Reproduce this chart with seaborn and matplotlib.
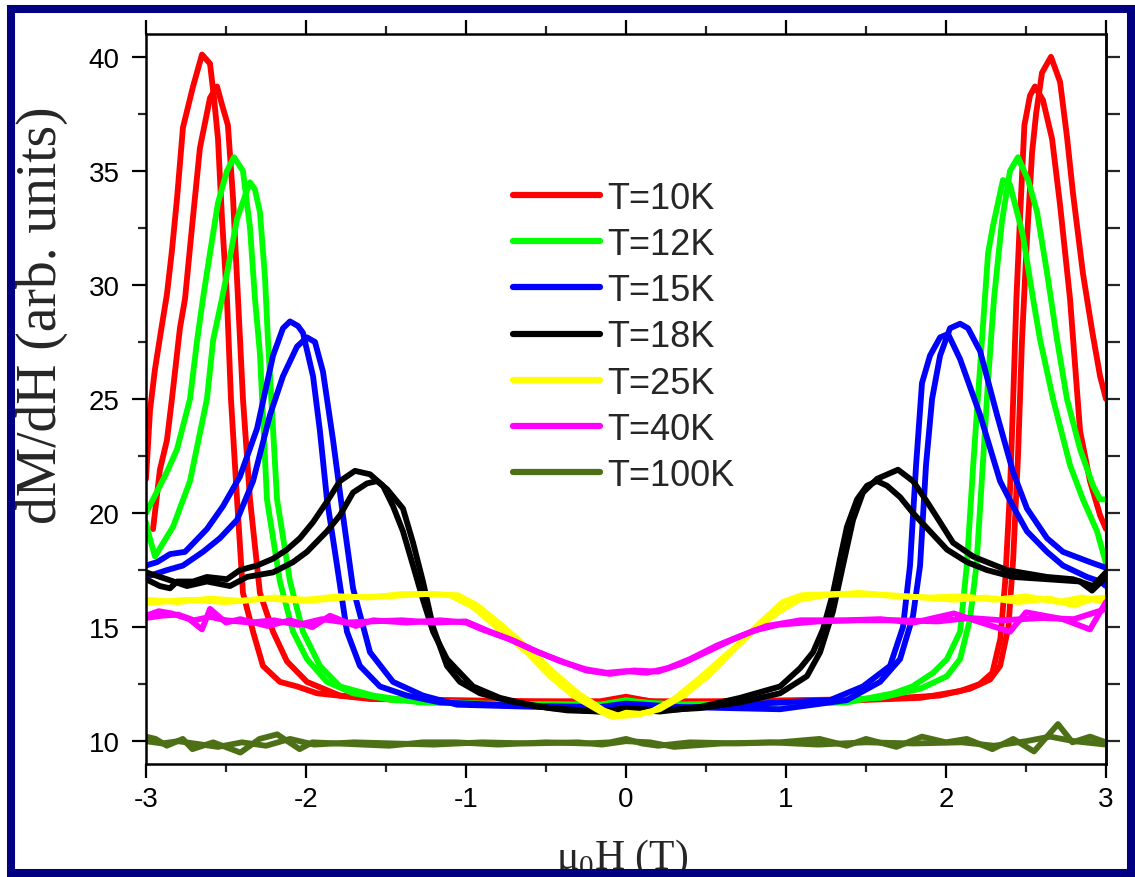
import matplotlib
matplotlib.use("Agg")
import matplotlib.pyplot as plt
import seaborn as sns
import pandas as pd
from matplotlib.patches import Rectangle
from matplotlib.lines import Line2D
from matplotlib.ticker import MultipleLocator

# ---------------- data ----------------
temps = ["T=10K", "T=12K", "T=15K", "T=18K", "T=25K", "T=40K", "T=100K"]
colors = ["#FF0000", "#00FF00", "#0000FF", "#000000", "#FFFF00", "#FF00FF", "#4D7017"]

h_10K_a = [-3.0, -2.975, -2.944, -2.906, -2.869, -2.838, -2.806, -2.769, -2.706, -2.65, -2.6, -2.575, -2.55, -2.525, -2.494, -2.469, -2.431, -2.394, -2.331, -2.269, -2.163, -2.056, -1.931, -1.6, -1.1, -0.6, -0.16, 0.0, 0.15, 0.59, 1.09, 1.59, 1.96, 2.15, 2.275, 2.338, 2.39, 2.42, 2.45, 2.475, 2.506, 2.538, 2.563, 2.6, 2.656, 2.713, 2.756, 2.794, 2.856, 2.913, 2.963, 3.0]
m_10K_a = [21.5, 24.5, 26.3, 28.0, 29.6, 31.5, 33.8, 36.9, 38.7, 40.1, 39.7, 38.2, 36.4, 32.9, 29.4, 25.0, 20.6, 16.5, 14.8, 13.3, 12.6, 12.4, 12.1, 11.85, 11.8, 11.75, 11.75, 11.95, 11.75, 11.75, 11.8, 11.85, 12.0, 12.3, 12.7, 13.3, 15.0, 18.0, 22.5, 27.6, 32.0, 35.8, 37.5, 39.3, 40.0, 38.9, 36.5, 34.0, 30.5, 28.0, 26.0, 25.0]
h_10K_b = [-2.956, -2.913, -2.869, -2.838, -2.788, -2.756, -2.713, -2.663, -2.6, -2.556, -2.525, -2.488, -2.456, -2.425, -2.394, -2.35, -2.288, -2.206, -2.119, -1.994, -1.788, -1.41, -0.79, -0.16, 0.0, 0.21, 0.84, 1.46, 1.84, 2.09, 2.21, 2.29, 2.34, 2.37, 2.40, 2.42, 2.44, 2.463, 2.49, 2.525, 2.556, 2.606, 2.663, 2.713, 2.775, 2.838, 2.9, 2.963, 3.0]
m_10K_b = [19.3, 21.9, 23.2, 25.0, 28.1, 29.4, 32.5, 36.0, 38.2, 38.7, 37.9, 37.0, 33.8, 29.4, 25.0, 20.6, 16.5, 14.8, 13.5, 12.6, 12.0, 11.8, 11.75, 11.7, 11.9, 11.7, 11.75, 11.8, 11.9, 12.2, 12.5, 13.0, 14.5, 17.0, 21.0, 25.0, 29.4, 33.0, 37.0, 38.3, 38.7, 38.1, 36.4, 33.5, 29.4, 23.6, 21.4, 19.9, 19.3]

h_12K_a = [-3.0, -2.956, -2.869, -2.806, -2.725, -2.68, -2.644, -2.6, -2.55, -2.494, -2.45, -2.394, -2.35, -2.319, -2.288, -2.244, -2.163, -2.081, -1.994, -1.869, -1.706, -1.456, -0.913, -0.16, 0.0, 0.21, 0.963, 1.588, 1.84, 2.006, 2.088, 2.15, 2.19, 2.23, 2.26, 2.281, 2.3, 2.35, 2.4, 2.45, 2.513, 2.569, 2.63, 2.694, 2.756, 2.838, 2.919, 2.963, 3.0]
m_12K_a = [20.0, 20.6, 21.8, 22.8, 25.0, 27.6, 29.4, 31.4, 33.6, 35.0, 35.6, 35.0, 32.5, 29.4, 27.0, 20.6, 17.0, 14.8, 13.6, 12.6, 12.1, 11.8, 11.65, 11.6, 11.8, 11.6, 11.65, 11.9, 12.3, 12.85, 13.6, 15.35, 17.7, 22.1, 25.5, 27.6, 29.4, 32.8, 35.0, 35.6, 34.6, 33.2, 30.6, 27.6, 25.0, 22.8, 21.2, 20.6, 20.6]
h_12K_b = [-3.0, -2.988, -2.944, -2.831, -2.725, -2.619, -2.58, -2.525, -2.494, -2.431, -2.381, -2.35, -2.32, -2.288, -2.256, -2.238, -2.181, -2.1, -2.019, -1.913, -1.788, -1.58, -1.288, -0.66, -0.16, 0.0, 0.34, 1.09, 1.38, 1.67, 1.79, 1.92, 2.006, 2.088, 2.13, 2.17, 2.225, 2.263, 2.294, 2.356, 2.4, 2.48, 2.544, 2.588, 2.669, 2.775, 2.856, 2.944, 3.0]
m_12K_b = [19.6, 19.2, 18.1, 19.4, 21.4, 25.0, 27.6, 29.4, 30.5, 32.9, 33.9, 34.5, 34.2, 33.2, 30.3, 27.6, 20.6, 17.0, 14.8, 13.3, 12.4, 12.0, 11.7, 11.6, 11.6, 11.75, 11.6, 11.65, 11.7, 12.1, 12.4, 13.0, 13.6, 14.8, 17.7, 22.1, 27.6, 31.4, 32.6, 34.6, 34.4, 32.2, 29.4, 27.6, 25.0, 22.1, 20.6, 19.2, 17.8]

h_15K_a = [-3.0, -2.931, -2.85, -2.756, -2.619, -2.519, -2.413, -2.306, -2.206, -2.144, -2.1, -2.05, -2.019, -1.956, -1.913, -1.869, -1.806, -1.744, -1.663, -1.538, -1.369, -1.163, -0.66, -0.16, 0.0, 0.34, 0.963, 1.38, 1.588, 1.713, 1.794, 1.838, 1.875, 1.913, 1.963, 2.025, 2.088, 2.138, 2.213, 2.319, 2.419, 2.506, 2.631, 2.731, 2.9, 3.0]
m_15K_a = [17.7, 17.85, 18.2, 18.3, 19.3, 20.3, 21.6, 23.7, 26.9, 28.1, 28.4, 28.2, 27.9, 26.0, 23.6, 20.6, 17.7, 14.8, 13.3, 12.4, 12.0, 11.7, 11.55, 11.5, 11.65, 11.5, 11.4, 11.8, 12.6, 13.6, 15.5, 17.7, 22.1, 25.0, 26.9, 28.1, 28.3, 28.1, 27.1, 24.3, 21.8, 20.2, 18.9, 18.3, 17.85, 17.6]
h_15K_b = [-3.0, -2.869, -2.769, -2.644, -2.538, -2.431, -2.331, -2.225, -2.144, -2.056, -1.994, -1.944, -1.894, -1.831, -1.769, -1.706, -1.6, -1.456, -1.269, -1.056, -0.538, -0.16, 0.0, 0.34, 0.963, 1.275, 1.481, 1.65, 1.731, 1.775, 1.813, 1.85, 1.9, 1.963, 2.013, 2.088, 2.213, 2.338, 2.419, 2.506, 2.631, 2.731, 2.881, 2.963, 3.0]
m_15K_b = [17.2, 17.5, 17.7, 18.3, 18.9, 19.7, 21.4, 24.3, 26.0, 27.3, 27.7, 27.5, 26.2, 23.2, 19.9, 16.7, 13.9, 12.6, 12.0, 11.6, 11.5, 11.45, 11.6, 11.45, 11.7, 11.8, 12.4, 13.3, 15.0, 17.7, 22.1, 25.7, 26.9, 27.7, 27.85, 26.75, 24.3, 21.4, 20.3, 19.2, 18.3, 17.7, 17.2, 17.0, 16.8]

h_18K_a = [-3.0, -2.913, -2.85, -2.806, -2.706, -2.619, -2.494, -2.413, -2.306, -2.206, -2.119, -2.038, -1.956, -1.869, -1.788, -1.694, -1.6, -1.519, -1.456, -1.394, -1.331, -1.269, -1.206, -1.119, -1.038, -0.956, -0.788, -0.58, -0.369, -0.163, 0.0, 0.213, 0.463, 0.713, 0.963, 1.131, 1.213, 1.294, 1.356, 1.419, 1.481, 1.569, 1.7, 1.794, 1.881, 1.963, 2.044, 2.169, 2.256, 2.381, 2.463, 2.631, 2.794, 2.919, 3.0]
m_18K_a = [17.1, 16.8, 16.7, 17.0, 17.0, 17.2, 17.1, 17.5, 17.7, 18.0, 18.4, 18.9, 19.6, 20.5, 21.4, 21.85, 21.7, 21.2, 20.3, 19.2, 17.7, 16.2, 14.8, 13.6, 13.0, 12.4, 11.9, 11.55, 11.35, 11.3, 11.45, 11.35, 11.45, 11.7, 12.1, 12.85, 13.9, 15.7, 17.7, 19.7, 20.9, 21.5, 21.9, 21.4, 20.5, 19.6, 18.7, 18.1, 17.85, 17.5, 17.4, 17.2, 17.1, 16.8, 17.4]
h_18K_b = [-3.0, -2.869, -2.744, -2.619, -2.475, -2.369, -2.206, -2.081, -1.994, -1.869, -1.788, -1.706, -1.619, -1.556, -1.494, -1.394, -1.331, -1.269, -1.206, -1.119, -1.038, -0.913, -0.725, -0.475, -0.163, 0.0, 0.213, 0.463, 0.713, 0.963, 1.088, 1.169, 1.231, 1.294, 1.338, 1.381, 1.444, 1.506, 1.569, 1.631, 1.713, 1.794, 1.9, 2.006, 2.131, 2.256, 2.419, 2.631, 2.838, 2.913, 3.0]
m_18K_b = [17.4, 17.1, 16.8, 17.0, 16.8, 17.2, 17.4, 17.85, 18.3, 19.2, 19.9, 20.9, 21.3, 21.4, 21.05, 20.2, 18.7, 17.0, 15.0, 13.3, 12.6, 12.1, 11.75, 11.45, 11.3, 11.4, 11.3, 11.5, 11.9, 12.4, 13.2, 13.9, 14.9, 16.5, 18.0, 19.4, 20.6, 21.2, 21.4, 21.2, 20.7, 20.0, 19.2, 18.4, 17.85, 17.5, 17.2, 17.1, 17.0, 16.6, 17.2]

h_25K_a = [-3.0, -2.8, -2.6, -2.4, -2.2, -2.0, -1.8, -1.6, -1.4, -1.2, -1.1, -0.96, -0.8, -0.62, -0.475, -0.33, -0.16, -0.08, 0.0, 0.09, 0.21, 0.36, 0.51, 0.67, 0.84, 0.98, 1.1, 1.3, 1.5, 1.7, 1.9, 2.1, 2.3, 2.5, 2.7, 2.85, 3.0]
m_25K_a = [16.2, 16.1, 16.25, 16.15, 16.3, 16.2, 16.35, 16.3, 16.45, 16.45, 16.4, 15.9, 14.95, 13.9, 12.85, 12.0, 11.3, 11.05, 11.25, 11.2, 11.4, 12.0, 12.85, 14.0, 15.2, 16.1, 16.4, 16.45, 16.45, 16.35, 16.3, 16.35, 16.2, 16.35, 16.1, 16.3, 16.1]
h_25K_b = [-3.0, -2.75, -2.5, -2.25, -2.0, -1.75, -1.5, -1.25, -1.05, -0.93, -0.78, -0.6, -0.45, -0.3, -0.14, -0.04, 0.06, 0.16, 0.3, 0.45, 0.62, 0.8, 0.95, 1.08, 1.25, 1.45, 1.65, 1.85, 2.05, 2.25, 2.45, 2.65, 2.8, 2.92, 3.0]
m_25K_b = [16.05, 16.2, 16.1, 16.25, 16.15, 16.3, 16.35, 16.45, 16.4, 15.95, 15.1, 14.0, 13.0, 12.1, 11.35, 11.1, 11.15, 11.3, 11.85, 12.7, 13.75, 14.85, 15.65, 16.2, 16.4, 16.5, 16.4, 16.3, 16.2, 16.3, 16.1, 16.25, 15.95, 16.25, 16.3]

h_40K_a = [-3.0, -2.92, -2.84, -2.73, -2.65, -2.6, -2.5, -2.41, -2.24, -2.1, -1.96, -1.85, -1.69, -1.58, -1.37, -1.16, -1.0, -0.9, -0.74, -0.58, -0.41, -0.25, -0.12, 0.0, 0.13, 0.26, 0.4, 0.57, 0.71, 0.88, 1.09, 1.38, 1.59, 1.8, 2.05, 2.22, 2.4, 2.5, 2.73, 2.9, 3.0]
m_40K_a = [15.5, 15.7, 15.6, 15.35, 14.9, 15.8, 15.2, 15.35, 15.05, 15.3, 15.0, 15.5, 15.05, 15.3, 15.2, 15.3, 15.2, 14.9, 14.5, 14.0, 13.5, 13.15, 13.0, 13.07, 13.0, 13.2, 13.6, 14.2, 14.6, 15.05, 15.3, 15.3, 15.35, 15.2, 15.6, 15.2, 14.8, 15.65, 15.35, 14.9, 16.1]
h_40K_b = [-3.0, -2.9, -2.8, -2.7, -2.6, -2.5, -2.35, -2.2, -2.05, -1.9, -1.75, -1.6, -1.4, -1.2, -1.0, -0.85, -0.7, -0.55, -0.4, -0.25, -0.1, 0.05, 0.2, 0.35, 0.5, 0.65, 0.8, 0.95, 1.2, 1.45, 1.7, 1.95, 2.15, 2.35, 2.6, 2.8, 3.0]
m_40K_b = [15.4, 15.5, 15.55, 15.3, 15.45, 15.3, 15.2, 15.3, 15.1, 15.35, 15.2, 15.25, 15.3, 15.2, 15.25, 14.8, 14.4, 13.9, 13.5, 13.1, 12.95, 13.1, 13.05, 13.4, 13.9, 14.4, 14.85, 15.1, 15.25, 15.3, 15.3, 15.25, 15.4, 15.3, 15.4, 15.35, 15.8]

h_100K_a = [-3.0, -2.94, -2.87, -2.77, -2.71, -2.58, -2.41, -2.29, -2.18, -2.04, -1.96, -1.71, -1.48, -1.27, -1.06, -0.8, -0.5, -0.25, -0.1, 0.0, 0.1, 0.2, 0.4, 0.7, 0.96, 1.21, 1.38, 1.5, 1.69, 1.85, 2.0, 2.13, 2.29, 2.42, 2.55, 2.7, 2.79, 2.9, 3.0]
m_100K_a = [10.2, 10.1, 9.8, 10.1, 9.65, 9.95, 9.5, 10.1, 10.3, 9.65, 9.95, 9.87, 9.8, 9.95, 9.95, 9.85, 9.95, 9.9, 9.95, 10.1, 9.9, 9.8, 9.95, 9.9, 9.95, 10.1, 9.8, 10.1, 9.75, 10.2, 9.95, 10.1, 9.65, 10.1, 9.55, 10.75, 9.95, 10.2, 9.95]
h_100K_b = [-3.0, -2.9, -2.8, -2.7, -2.55, -2.4, -2.25, -2.1, -1.95, -1.7, -1.45, -1.2, -0.9, -0.6, -0.3, -0.15, 0.0, 0.15, 0.3, 0.6, 0.9, 1.2, 1.5, 1.8, 2.1, 2.3, 2.5, 2.65, 2.8, 3.0]
m_100K_b = [10.0, 9.9, 10.0, 9.9, 9.75, 9.95, 9.8, 10.1, 9.85, 9.95, 9.9, 9.85, 9.95, 9.9, 9.95, 9.85, 10.0, 9.95, 9.75, 9.9, 9.95, 9.85, 9.95, 9.9, 9.95, 9.8, 10.0, 10.2, 10.0, 9.85]

x_ticks = [-3, -2, -1, 0, 1, 2, 3]
y_ticks = [10, 15, 20, 25, 30, 35, 40]

branches = [
    ("T=10K", "a", h_10K_a, m_10K_a), ("T=10K", "b", h_10K_b, m_10K_b),
    ("T=12K", "a", h_12K_a, m_12K_a), ("T=12K", "b", h_12K_b, m_12K_b),
    ("T=15K", "a", h_15K_a, m_15K_a), ("T=15K", "b", h_15K_b, m_15K_b),
    ("T=18K", "a", h_18K_a, m_18K_a), ("T=18K", "b", h_18K_b, m_18K_b),
    ("T=25K", "a", h_25K_a, m_25K_a), ("T=25K", "b", h_25K_b, m_25K_b),
    ("T=40K", "a", h_40K_a, m_40K_a), ("T=40K", "b", h_40K_b, m_40K_b),
    ("T=100K", "a", h_100K_a, m_100K_a), ("T=100K", "b", h_100K_b, m_100K_b),
]
frames = []
for t, b, h, m in branches:
    frames.append(pd.DataFrame({"H": h, "dMdH": m, "T": t, "branch": t + b}))
df = pd.concat(frames, ignore_index=True)

# ---------------- style ----------------
sns.set_style("white")
plt.rcParams["font.family"] = ["Liberation Sans", "DejaVu Sans"]
plt.rcParams["axes.unicode_minus"] = False
plt.rcParams["mathtext.fontset"] = "custom"
plt.rcParams["mathtext.rm"] = "Liberation Serif"

fig = plt.figure(figsize=(11.35, 8.78), dpi=100)
ax = fig.add_axes([146 / 1135, 113 / 878, 960 / 1135, 730 / 878])

sns.lineplot(data=df, x="H", y="dMdH", hue="T", units="branch", estimator=None,
             sort=False, hue_order=temps, palette=dict(zip(temps, colors)),
             linewidth=4.2, legend=False, ax=ax,
             solid_capstyle="round", solid_joinstyle="round")

ax.set_xlim(-3, 3)
ax.set_ylim(9, 41)
ax.set_xticks(x_ticks)
ax.set_yticks(y_ticks)
ax.set_xticklabels([str(v) for v in x_ticks])
ax.set_yticklabels([str(v) for v in y_ticks])
ax.xaxis.set_minor_locator(MultipleLocator(0.5))
ax.yaxis.set_minor_locator(MultipleLocator(2.5))

for s in ax.spines.values():
    s.set_linewidth(1.8)
    s.set_color("black")

ax.tick_params(which="major", direction="out", length=10, width=1.6,
               top=True, bottom=True, left=True, right=False,
               labelsize=20, colors="black")
ax.tick_params(axis="x", which="major", pad=6)
ax.tick_params(axis="y", which="major", pad=9)
ax.tick_params(which="minor", direction="out", length=5.5, width=1.6,
               top=True, bottom=True, left=True, right=False)

sec = ax.secondary_yaxis("right")
sec.yaxis.set_major_locator(MultipleLocator(2.5))
sec.tick_params(direction="out", length=10, width=1.6, labelright=False)
sec.spines["right"].set_linewidth(1.8)

serif = ["Liberation Serif", "DejaVu Serif"]
ax.set_ylabel("dM/dH (arb. units)", fontsize=40, family=serif)
ax.yaxis.set_label_coords(-0.081, 0.616)
ax.set_xlabel(r"μ$_{\mathregular{0}}$H (T)", fontsize=30, family=serif)
ax.xaxis.set_label_coords(0.496, -0.1)

handles = [Line2D([0], [0], color=c, lw=4.5, solid_capstyle="round") for c in colors]
ax.legend(handles, temps, loc="upper left", bbox_to_anchor=(0.382, 0.799),
          frameon=False, fontsize=26, handlelength=2.41, handletextpad=0.22,
          labelspacing=0.31, borderpad=0, borderaxespad=0)

fig.patches.append(Rectangle((11 / 1135, 4 / 878), 1120 / 1135, 864 / 878,
                             transform=fig.transFigure, fill=False,
                             edgecolor="#000080", linewidth=5.8, zorder=10))

fig.savefig("out.png", dpi=100)
